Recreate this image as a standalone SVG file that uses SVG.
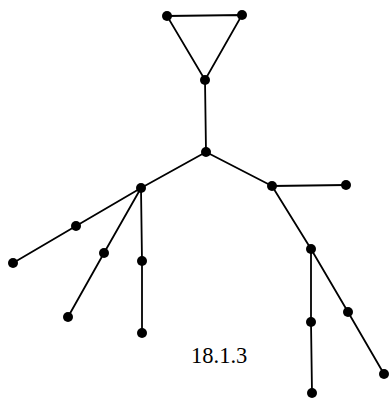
<svg xmlns="http://www.w3.org/2000/svg" width="391" height="399" viewBox="0 0 391 399">
<style>
.e{stroke:#000;stroke-width:1.8;fill:none;stroke-linecap:round}
.n{fill:#000}
.t{font-family:"Liberation Serif",serif;font-size:22.5px;fill:#000}
</style>
<rect width="391" height="399" fill="#fff"/>
<g id="edges">
<path class="e" d="M167,16 L242,15 L205,80 Z"/>
<path class="e" d="M205,80 L206,152"/>
<path class="e" d="M206,152 L141,188"/>
<path class="e" d="M206,152 L272,186"/>
<path class="e" d="M272,186 L346,185"/>
<path class="e" d="M141,188 L76,226 L13,263"/>
<path class="e" d="M141,188 L104,253 L68,317"/>
<path class="e" d="M141,188 L142,261 L142,333"/>
<path class="e" d="M272,186 L311,249"/>
<path class="e" d="M311,249 L311,322 L312,393"/>
<path class="e" d="M311,249 L348,312 L384,374"/>
</g>
<g id="n1"><circle class="n" cx="167" cy="16" r="5"/></g>
<g id="n2"><circle class="n" cx="242" cy="15" r="5"/></g>
<g id="n3"><circle class="n" cx="205" cy="80" r="5"/></g>
<g id="n4"><circle class="n" cx="206" cy="152" r="5"/></g>
<g id="n5"><circle class="n" cx="141" cy="188" r="5"/></g>
<g id="n6"><circle class="n" cx="272" cy="186" r="5"/></g>
<g id="n7"><circle class="n" cx="346" cy="185" r="5"/></g>
<g id="n8"><circle class="n" cx="76" cy="226" r="5"/></g>
<g id="n9"><circle class="n" cx="13" cy="263" r="5"/></g>
<g id="n10"><circle class="n" cx="104" cy="253" r="5"/></g>
<g id="n11"><circle class="n" cx="68" cy="317" r="5"/></g>
<g id="n12"><circle class="n" cx="142" cy="261" r="5"/></g>
<g id="n13"><circle class="n" cx="142" cy="333" r="5"/></g>
<g id="n14"><circle class="n" cx="311" cy="249" r="5"/></g>
<g id="n15"><circle class="n" cx="311" cy="322" r="5"/></g>
<g id="n16"><circle class="n" cx="312" cy="393" r="5"/></g>
<g id="n17"><circle class="n" cx="348" cy="312" r="5"/></g>
<g id="n18"><circle class="n" cx="384" cy="374" r="5"/></g>
<text class="t" x="191" y="363">18.1.3</text>
</svg>
